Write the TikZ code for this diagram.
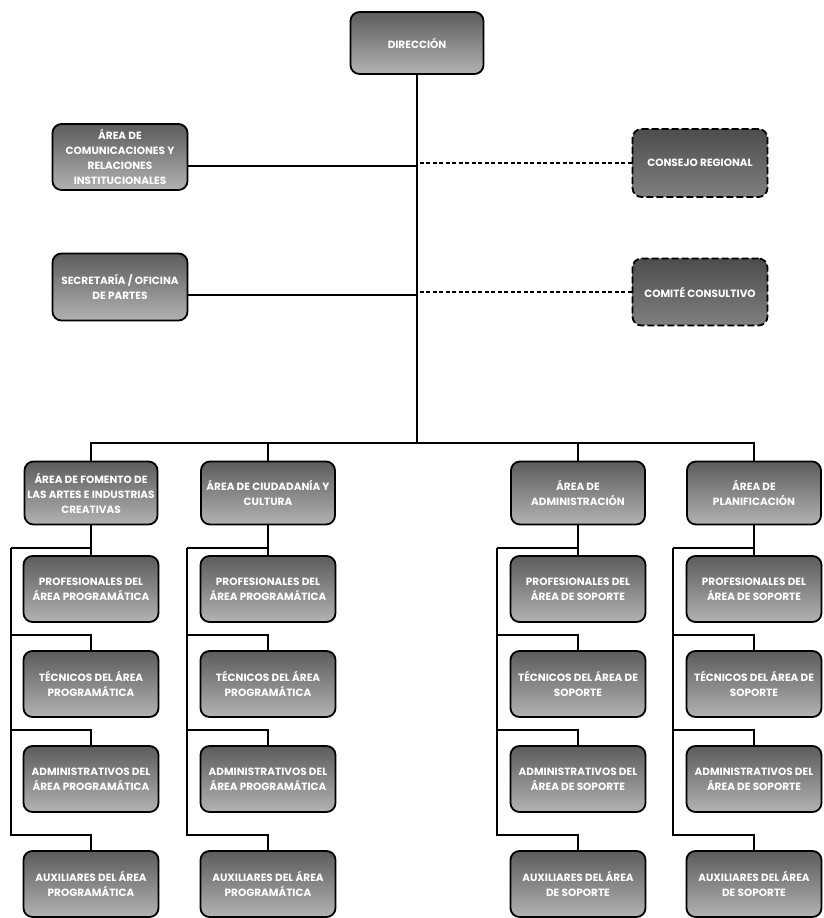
\documentclass[tikz,border=0pt]{standalone}
\usepackage{fontspec}
\setmainfont{Poppins}
\usetikzlibrary{positioning,calc}

\begin{document}
\begin{tikzpicture}[x=1pt,y=1pt,
  caja/.style={draw=black, line width=1.8pt, rounded corners=9pt,
    top color=black!64, bottom color=black!30, text=white,
    font=\fontsize{10.5}{15}\selectfont\bfseries, align=center,
    minimum width=135pt, minimum height=66pt, inner sep=1pt},
  asesor/.style={caja, dash pattern=on 7pt off 3pt,
    top color=black!70, bottom color=black!50},
  linea/.style={line width=1.2pt},
  punteada/.style={linea, dash pattern=on 4pt off 2.5pt}]
  \useasboundingbox (0,0) rectangle (824,918);
  % cabeza
  \node[caja, minimum width=133pt, minimum height=62pt] (dir) at (417,875) {DIRECCIÓN};
  \node[caja] (com) at (120,761) {ÁREA DE\\COMUNICACIONES Y\\RELACIONES\\INSTITUCIONALES};
  \node[caja, minimum height=67pt] (sec) at (120,631) {SECRETARÍA / OFICINA\\DE PARTES};
  \node[asesor, minimum height=68pt] (cons) at (700,755) {CONSEJO REGIONAL};
  \node[asesor, minimum height=67pt] (comite) at (700,626) {COMITÉ CONSULTIVO};
  \coordinate (bus) at (417,475);
  \draw[linea] (dir.south) -- (bus);
  \draw[linea] ([yshift=-9pt]com.east) -- ([yshift=-9pt]com.east -| bus);
  \draw[linea] ([yshift=-8pt]sec.east) -- ([yshift=-8pt]sec.east -| bus);
  \draw[punteada] (cons.west) -- (cons.west -| bus);
  \draw[punteada] (comite.west) -- (comite.west -| bus);
  % areas
  \node[caja, minimum width=133pt, minimum height=63pt] (F0) at (91,425) {ÁREA DE FOMENTO DE\\LAS ARTES E INDUSTRIAS\\CREATIVAS};
  \node[caja, minimum width=134pt, minimum height=63pt] (C0) at (268,425) {ÁREA DE CIUDADANÍA Y\\CULTURA};
  \node[caja, minimum width=134pt, minimum height=63pt] (A0) at (578,425) {ÁREA DE\\ADMINISTRACIÓN};
  \node[caja, minimum width=134pt, minimum height=63pt] (P0) at (754,425) {ÁREA DE\\PLANIFICACIÓN};
  \draw[linea] (F0.north) -- (F0.north |- bus) -- (P0.north |- bus) -- (P0.north);
  \draw[linea] (C0.north) -- (C0.north |- bus);
  \draw[linea] (A0.north) -- (A0.north |- bus);
  % fomento
  \node[caja] (F1) at (91,329) {PROFESIONALES DEL\\ÁREA PROGRAMÁTICA};
  \node[caja] (F2) at (91,234) {TÉCNICOS DEL ÁREA\\PROGRAMÁTICA};
  \node[caja] (F3) at (91,139) {ADMINISTRATIVOS DEL\\ÁREA PROGRAMÁTICA};
  \node[caja] (F4) at (91,34) {AUXILIARES DEL ÁREA\\PROGRAMÁTICA};
  % ciudadania
  \node[caja] (C1) at (268,329) {PROFESIONALES DEL\\ÁREA PROGRAMÁTICA};
  \node[caja] (C2) at (268,234) {TÉCNICOS DEL ÁREA\\PROGRAMÁTICA};
  \node[caja] (C3) at (268,139) {ADMINISTRATIVOS DEL\\ÁREA PROGRAMÁTICA};
  \node[caja] (C4) at (268,34) {AUXILIARES DEL ÁREA\\PROGRAMÁTICA};
  % administracion
  \node[caja] (A1) at (578,329) {PROFESIONALES DEL\\ÁREA DE SOPORTE};
  \node[caja] (A2) at (578,234) {TÉCNICOS DEL ÁREA DE\\SOPORTE};
  \node[caja] (A3) at (578,139) {ADMINISTRATIVOS DEL\\ÁREA DE SOPORTE};
  \node[caja] (A4) at (578,34) {AUXILIARES DEL ÁREA\\DE SOPORTE};
  % planificacion
  \node[caja] (P1) at (754,329) {PROFESIONALES DEL\\ÁREA DE SOPORTE};
  \node[caja] (P2) at (754,234) {TÉCNICOS DEL ÁREA DE\\SOPORTE};
  \node[caja] (P3) at (754,139) {ADMINISTRATIVOS DEL\\ÁREA DE SOPORTE};
  \node[caja] (P4) at (754,34) {AUXILIARES DEL ÁREA\\DE SOPORTE};
  % lomos de cada columna
  \coordinate (sF) at (11,370);
  \coordinate (sC) at (187,370);
  \coordinate (sA) at (497,370);
  \coordinate (sP) at (673,370);
  \draw[linea] (F0.south) -- (F1.north);
  \draw[linea] (F1.north |- sF) -- (sF);
  \draw[linea] (sF) |- ([yshift=15pt]F2.north) -- (F2.north);
  \draw[linea] (sF) |- ([yshift=15pt]F3.north) -- (F3.north);
  \draw[linea] (sF) |- ([yshift=15pt]F4.north) -- (F4.north);
  \draw[linea] (C0.south) -- (C1.north);
  \draw[linea] (C1.north |- sC) -- (sC);
  \draw[linea] (sC) |- ([yshift=15pt]C2.north) -- (C2.north);
  \draw[linea] (sC) |- ([yshift=15pt]C3.north) -- (C3.north);
  \draw[linea] (sC) |- ([yshift=15pt]C4.north) -- (C4.north);
  \draw[linea] (A0.south) -- (A1.north);
  \draw[linea] (A1.north |- sA) -- (sA);
  \draw[linea] (sA) |- ([yshift=15pt]A2.north) -- (A2.north);
  \draw[linea] (sA) |- ([yshift=15pt]A3.north) -- (A3.north);
  \draw[linea] (sA) |- ([yshift=15pt]A4.north) -- (A4.north);
  \draw[linea] (P0.south) -- (P1.north);
  \draw[linea] (P1.north |- sP) -- (sP);
  \draw[linea] (sP) |- ([yshift=15pt]P2.north) -- (P2.north);
  \draw[linea] (sP) |- ([yshift=15pt]P3.north) -- (P3.north);
  \draw[linea] (sP) |- ([yshift=15pt]P4.north) -- (P4.north);
\end{tikzpicture}
\end{document}
